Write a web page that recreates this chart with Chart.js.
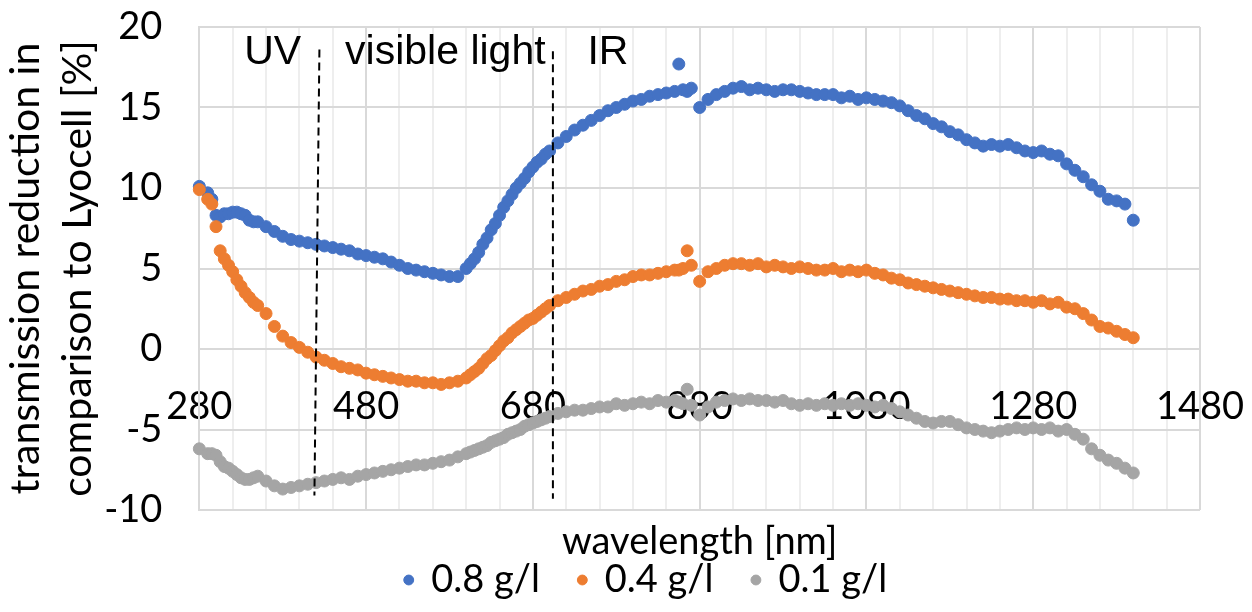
<!DOCTYPE html>
<html>
<head>
<meta charset="utf-8">
<script src="https://cdn.jsdelivr.net/npm/chart.js@4.4.0/dist/chart.umd.min.js"></script>
<style>
  html, body { margin: 0; padding: 0; background: #fff; }
</style>
</head>
<body>
<canvas id="transmission" width="1252" height="612"></canvas>
<script>
// wavelength [nm] shared by the three series
const wavelength = [
  280, 290, 295, 300, 305, 310, 315, 320, 325, 330,
  335, 340, 345, 350, 360, 370, 380, 390, 400, 410,
  420, 430, 440, 450, 460, 470, 480, 490, 500, 510,
  520, 530, 540, 550, 560, 570, 580, 590, 600, 605,
  610, 615, 620, 625, 630, 635, 640, 645, 650, 655,
  660, 665, 670, 675, 680, 685, 690, 695, 700, 710,
  720, 730, 740, 750, 760, 770, 780, 790, 800, 810,
  820, 830, 840, 850, 855, 860, 865, 870, 880, 890,
  900, 910, 920, 930, 940, 950, 960, 970, 980, 990,
  1000, 1010, 1020, 1030, 1040, 1050, 1060, 1070, 1080, 1090,
  1100, 1110, 1120, 1130, 1140, 1150, 1160, 1170, 1180, 1190,
  1200, 1210, 1220, 1230, 1240, 1250, 1260, 1270, 1280, 1290,
  1300, 1310, 1320, 1330, 1340, 1350, 1360, 1370, 1380, 1390,
  1400
];

// transmission reduction [%], 0.8 g/l
const conc08 = [
  10.1, 9.7, 9.3, 8.3, 8.2, 8.4, 8.4, 8.5, 8.5, 8.4,
  8.3, 8.0, 7.9, 7.9, 7.6, 7.3, 7.0, 6.8, 6.7, 6.6,
  6.5, 6.4, 6.3, 6.2, 6.1, 5.9, 5.8, 5.7, 5.6, 5.4,
  5.2, 5.0, 4.9, 4.8, 4.7, 4.6, 4.5, 4.5, 5.0, 5.3,
  5.6, 6.0, 6.5, 6.9, 7.4, 7.8, 8.3, 8.8, 9.2, 9.6,
  10.0, 10.3, 10.6, 11.0, 11.3, 11.6, 11.8, 12.1, 12.3, 12.8,
  13.2, 13.6, 13.9, 14.2, 14.5, 14.8, 15.0, 15.2, 15.4, 15.5,
  15.7, 15.8, 15.9, 16.0, 17.7, 16.1, 16.0, 16.2, 15.0, 15.5,
  15.8, 16.0, 16.2, 16.3, 16.1, 16.2, 16.1, 16.0, 16.1, 16.1,
  16.0, 15.9, 15.8, 15.8, 15.8, 15.6, 15.7, 15.5, 15.6, 15.5,
  15.4, 15.3, 15.1, 14.8, 14.5, 14.3, 14.0, 13.8, 13.5, 13.3,
  13.0, 12.8, 12.6, 12.7, 12.6, 12.7, 12.5, 12.3, 12.2, 12.3,
  12.1, 12.0, 11.5, 11.1, 10.7, 10.2, 9.8, 9.3, 9.2, 9.0,
  8.0
];

// 0.4 g/l
const conc04 = [
  9.9, 9.3, 9.0, 7.6, 6.1, 5.6, 5.2, 4.8, 4.3, 3.9,
  3.5, 3.2, 2.9, 2.7, 2.2, 1.4, 0.8, 0.4, 0.1, -0.2,
  -0.5, -0.7, -0.9, -1.1, -1.2, -1.3, -1.5, -1.6, -1.7, -1.8,
  -1.9, -2.0, -2.0, -2.1, -2.1, -2.2, -2.1, -2.0, -1.8, -1.6,
  -1.4, -1.2, -0.9, -0.6, -0.4, -0.1, 0.2, 0.5, 0.7, 1.0,
  1.2, 1.4, 1.6, 1.8, 1.9, 2.1, 2.3, 2.5, 2.7, 3.0,
  3.2, 3.4, 3.6, 3.7, 3.9, 4.0, 4.2, 4.3, 4.5, 4.6,
  4.6, 4.7, 4.8, 4.9, 4.9, 5.0, 6.1, 5.2, 4.2, 4.8,
  5.0, 5.2, 5.3, 5.3, 5.2, 5.3, 5.1, 5.2, 5.1, 5.0,
  5.1, 5.0, 4.9, 4.9, 5.0, 4.8, 4.9, 4.8, 4.9, 4.7,
  4.6, 4.4, 4.3, 4.1, 4.0, 3.9, 3.8, 3.7, 3.6, 3.5,
  3.4, 3.3, 3.2, 3.2, 3.1, 3.1, 3.0, 3.0, 2.9, 3.0,
  2.8, 2.9, 2.6, 2.5, 2.2, 1.8, 1.4, 1.3, 1.1, 0.9,
  0.7
];

// 0.1 g/l
const conc01 = [
  -6.2, -6.5, -6.5, -6.6, -7.0, -7.3, -7.4, -7.6, -7.8, -8.0,
  -8.1, -8.1, -8.0, -7.9, -8.2, -8.5, -8.7, -8.6, -8.5, -8.4,
  -8.3, -8.2, -8.1, -8.0, -8.1, -7.9, -7.8, -7.7, -7.6, -7.5,
  -7.4, -7.3, -7.2, -7.2, -7.1, -7.0, -6.9, -6.7, -6.5, -6.4,
  -6.3, -6.2, -6.1, -6.0, -5.8, -5.7, -5.6, -5.5, -5.3, -5.2,
  -5.1, -5.0, -4.8, -4.7, -4.6, -4.5, -4.4, -4.3, -4.2, -4.0,
  -3.9, -3.8, -3.8, -3.7, -3.6, -3.6, -3.4, -3.5, -3.4, -3.3,
  -3.4, -3.2, -3.3, -3.2, -3.3, -3.4, -2.5, -3.5, -4.1, -3.6,
  -3.3, -3.2, -3.1, -3.2, -3.1, -3.2, -3.2, -3.3, -3.2, -3.4,
  -3.5, -3.4, -3.5, -3.4, -3.5, -3.4, -3.5, -3.4, -3.5, -3.6,
  -3.5, -3.7, -3.9, -4.1, -4.3, -4.5, -4.6, -4.5, -4.5, -4.7,
  -4.9, -5.0, -5.1, -5.2, -5.1, -5.0, -4.9, -5.0, -4.9, -5.0,
  -4.9, -5.1, -5.0, -5.3, -5.6, -6.2, -6.6, -6.9, -7.1, -7.4,
  -7.7
];

const seriesLabels = ['0.8 g/l', '0.4 g/l', '0.1 g/l'];
const seriesValues = [conc08, conc04, conc01];
const seriesColors = ['#4472C4', '#ED7D31', '#A5A5A5'];

// spectral regions: names and the dashed boundaries between them (nm / %)
const regionNames = ['UV', 'visible light', 'IR'];
const regionNameAt = [368, 575, 770];
const regionNameLevel = 17.7;
const boundaryTopNm = [424, 704];
const boundaryBottomNm = [418, 704];
const boundaryTopLevel = [18.6, 18.5];
const boundaryBottomLevel = [-9.1, -9.3];

const textFont = { family: 'Lato', size: 38 };

const regionMarks = {
  id: 'regionMarks',
  afterDatasetsDraw(chart) {
    const { ctx, scales: { x, y } } = chart;
    ctx.save();
    ctx.strokeStyle = '#000';
    ctx.lineWidth = 2;
    ctx.setLineDash([8, 5]);
    boundaryTopNm.forEach((nm, i) => {
      ctx.beginPath();
      ctx.moveTo(x.getPixelForValue(nm), y.getPixelForValue(boundaryTopLevel[i]));
      ctx.lineTo(x.getPixelForValue(boundaryBottomNm[i]), y.getPixelForValue(boundaryBottomLevel[i]));
      ctx.stroke();
    });
    ctx.setLineDash([]);
    ctx.fillStyle = '#000';
    ctx.font = '41px "Liberation Sans", Arial, sans-serif';
    ctx.textAlign = 'center';
    ctx.textBaseline = 'alphabetic';
    regionNames.forEach((name, i) => {
      ctx.fillText(name, x.getPixelForValue(regionNameAt[i]), y.getPixelForValue(regionNameLevel));
    });
    ctx.restore();
  }
};

// legend: keep series order, widen the gaps with spaces
const legendLabels = (chart) =>
  Chart.defaults.plugins.legend.labels.generateLabels(chart)
    .sort((a, b) => a.datasetIndex - b.datasetIndex)
    .map((item) => {
      item.text += item.datasetIndex < 2 ? '    ' : '           ';
      return item;
    });

const ctx = document.getElementById('transmission');
new Chart(ctx, {
  type: 'scatter',
  data: {
    datasets: seriesValues.map((vals, i) => ({
      label: seriesLabels[i],
      data: wavelength.map((nm, k) => ({ x: nm, y: vals[k] })),
      backgroundColor: seriesColors[i],
      borderColor: seriesColors[i],
      borderWidth: 1,
      pointRadius: 6,
      pointHoverRadius: 6,
      clip: false,
      order: 3 - i
    }))
  },
  options: {
    responsive: false,
    animation: false,
    devicePixelRatio: 1,
    layout: { padding: { top: 27, right: 52, bottom: 3, left: 0 } },
    scales: {
      x: {
        type: 'linear',
        position: { y: 0 },
        min: 280,
        max: 1480,
        ticks: {
          stepSize: 40,
          autoSkip: false,
          maxRotation: 0,
          padding: 0,
          color: '#000',
          font: textFont,
          callback: (v) => ((v - 280) % 200 === 0 ? v : '')
        },
        grid: {
          drawTicks: true,
          tickLength: 35,
          tickColor: 'rgba(0,0,0,0)',
          lineWidth: 2,
          color: (c) => ((c.tick.value - 280) % 200 === 0 ? '#d9d9d9' : '#eeeeee')
        },
        border: { display: true, color: '#d9d9d9', width: 2 }
      },
      xTitle: {
        type: 'linear',
        position: 'bottom',
        min: 280,
        max: 1480,
        ticks: { display: false },
        grid: { display: false, drawTicks: false },
        border: { display: false },
        title: {
          display: true,
          text: 'wavelength [nm]',
          color: '#000',
          font: { ...textFont, lineHeight: 1.0 },
          padding: { top: 13, bottom: 0 }
        }
      },
      y: {
        min: -10,
        max: 20,
        ticks: { stepSize: 5, padding: 0, color: '#000', font: textFont },
        grid: {
          drawTicks: true,
          tickLength: 37,
          tickColor: 'rgba(0,0,0,0)',
          lineWidth: 2,
          color: '#d9d9d9'
        },
        border: { display: true, color: '#d9d9d9', width: 2 },
        title: {
          display: true,
          text: ['transmission reduction in', 'comparison to Lyocell [%]'],
          color: '#000',
          font: { family: 'Lato', size: 41, lineHeight: 1.27 },
          padding: { top: 0, bottom: 0 }
        }
      }
    },
    plugins: {
      tooltip: { enabled: false },
      legend: {
        position: 'bottom',
        fullSize: false,
        labels: {
          usePointStyle: true,
          pointStyle: 'circle',
          boxWidth: 7,
          boxHeight: 7,
          padding: 0,
          color: '#000',
          font: textFont,
          generateLabels: legendLabels
        }
      }
    }
  },
  plugins: [regionMarks]
});
</script>
</body>
</html>
